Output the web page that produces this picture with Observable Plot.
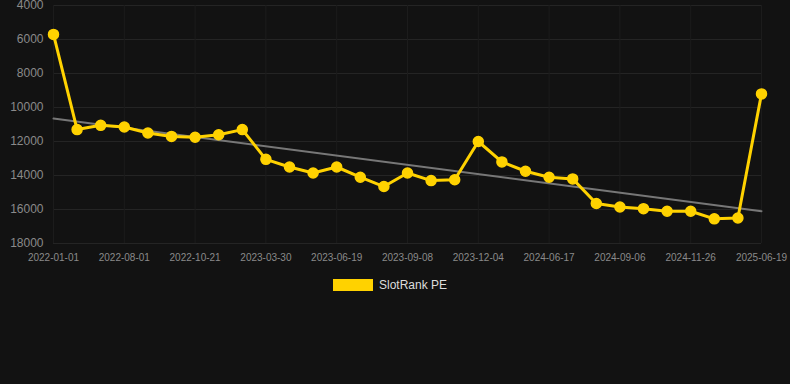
<!DOCTYPE html>
<html>
<head>
<meta charset="utf-8">
<script src="https://cdn.jsdelivr.net/npm/d3@7"></script>
<script src="https://cdn.jsdelivr.net/npm/@observablehq/plot@0.6"></script>
<style>
  html, body { margin: 0; padding: 0; background: #121212; width: 790px; height: 384px; overflow: hidden; }
  #chart svg { display: block; }
  .legend { display: flex; align-items: center; justify-content: center; margin-top: 10px; position: relative; left: -5px;
    font: 12px "Liberation Sans", Arial, sans-serif; color: #dddddd; }
  .legend .sw { width: 40px; height: 12px; background: #FFD200; margin-right: 6px; }
</style>
</head>
<body>
<div id="chart"></div>
<script>
// Series values (SlotRank PE), evenly spaced observations
const rankValues = [5700, 11300, 11050, 11150, 11500, 11700, 11750, 11600, 11300, 13050,
  13500, 13850, 13500, 14100, 14650, 13850, 14300, 14250, 12000, 13200,
  13750, 14100, 14200, 15650, 15850, 15950, 16100, 16100, 16550, 16500, 9200];
// Tick labels shown every 3rd observation
const tickLabels = ["2022-01-01", "2022-08-01", "2022-10-21", "2023-03-30", "2023-06-19",
  "2023-09-08", "2023-12-04", "2024-06-17", "2024-09-06", "2024-11-26", "2025-06-19"];
const tickEvery = 3;
// Trend line start/end values
const trendValues = [10650, 16100];
const yTicks = [4000, 6000, 8000, 10000, 12000, 14000, 16000, 18000];

const data = rankValues.map((v, i) => ({i, v}));
const trend = [{i: 0, v: trendValues[0]}, {i: rankValues.length - 1, v: trendValues[1]}];
const xTicks = tickLabels.map((_, k) => k * tickEvery);

const chart = Plot.plot({
  width: 790,
  height: 268,
  marginLeft: 53,
  marginRight: 29,
  marginTop: 5,
  marginBottom: 25,
  style: {background: "#121212", fontFamily: "'Liberation Sans', Arial, sans-serif", overflow: "visible"},
  x: {type: "linear", domain: [0, rankValues.length - 1], ticks: xTicks, label: null, tickFormat: d => tickLabels[d / tickEvery]},
  y: {domain: [4000, 18000], reverse: true, ticks: yTicks, label: null},
  marks: [
    Plot.gridY(yTicks, {stroke: "#242424", strokeOpacity: 1}),
    Plot.gridX(xTicks, {stroke: "#1c1c1c", strokeOpacity: 1}),
    Plot.axisY({ticks: yTicks, label: null, tickSize: 0, tickPadding: 10, fontSize: 12, fill: "#8a8a8a", tickFormat: d => String(d)}),
    Plot.axisX({ticks: xTicks, label: null, tickSize: 0, tickPadding: 10, fontSize: 10, fill: "#8a8a8a", tickFormat: d => tickLabels[d / tickEvery]}),
    Plot.line(trend, {x: "i", y: "v", stroke: "#777777", strokeWidth: 2}),
    Plot.line(data, {x: "i", y: "v", stroke: "#FFD200", strokeWidth: 3}),
    Plot.dot(data, {x: "i", y: "v", r: 5, fill: "#FFD200", stroke: "#FFD200"})
  ]
});
document.getElementById("chart").appendChild(chart);
const legend = document.createElement("div");
legend.className = "legend";
legend.innerHTML = '<div class="sw"></div><span>SlotRank PE</span>';
document.getElementById("chart").appendChild(legend);
</script>
</body>
</html>
